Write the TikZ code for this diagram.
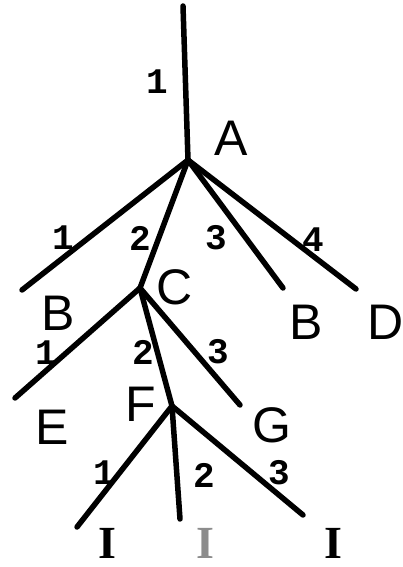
\documentclass[tikz,border=0pt]{standalone}
\usepackage{fontspec}
\newfontfamily\lettrfont{Liberation Sans}
\newfontfamily\numfont{Liberation Mono}
\newfontfamily\ifont{Liberation Serif}
\begin{document}
\begin{tikzpicture}[x=1pt,y=-1pt,
  branch/.style={line width=5.5pt,line cap=round,black},
  letter/.style={font=\lettrfont\fontsize{50}{50}\selectfont,inner sep=0pt},
  num/.style={font=\numfont\bfseries\fontsize{36}{36}\selectfont,inner sep=0pt},
  leaf/.style={font=\ifont\bfseries\fontsize{46}{46}\selectfont,inner sep=0pt,anchor=base}]
\useasboundingbox[fill=white] (0,0) rectangle (403,567);
% junctions and free ends
\coordinate (top) at (183,6);
\coordinate (ja) at (188,160);
\coordinate (jc) at (140,288);
\coordinate (jf) at (172,406);
\coordinate (e1) at (22,290);
\coordinate (e3) at (283,288);
\coordinate (e4) at (356,289);
\coordinate (ec1) at (15,398);
\coordinate (ec3) at (240,405);
\coordinate (ef1) at (77,527);
\coordinate (ef2) at (180,519);
\coordinate (ef3) at (303,515);
% branches
\draw[branch] (top) -- (ja);
\draw[branch] (ja) -- (e1);
\draw[branch] (ja) -- (jc);
\draw[branch] (ja) -- (e3);
\draw[branch] (ja) -- (e4);
\draw[branch] (jc) -- (ec1);
\draw[branch] (jc) -- (jf);
\draw[branch] (jc) -- (ec3);
\draw[branch] (jf) -- (ef1);
\draw[branch] (jf) -- (ef2);
\draw[branch] (jf) -- (ef3);
% letters
\node[letter] (lA) at (231,138) {A};
\node[letter] (lB1) at (58,313) {B};
\node[letter] (lC) at (175,287) {C};
\node[letter] (lB2) at (306,322) {B};
\node[letter] (lD) at (386,322) {D};
\node[letter] (lE) at (52,427) {E};
\node[letter] (lF) at (141,404) {F};
\node[letter] (lG) at (272,425) {G};
% numbers
\node[num] (n0) at (157,82) {1};
\node[num] (n1) at (63,238) {1};
\node[num] (n2) at (140,238) {2};
\node[num] (n3) at (216,238) {3};
\node[num] (n4) at (313,240) {4};
\node[num] (m1) at (46,353) {1};
\node[num] (m2) at (143,352) {2};
\node[num] (m3) at (218,352) {3};
\node[num] (k1) at (104,473) {1};
\node[num] (k2) at (204,475) {2};
\node[num] (k3) at (279,473) {3};
% leaves
\node[leaf] (i1) at (107,558) {I};
\node[leaf,black!45] (i2) at (205,558) {I};
\node[leaf] (i3) at (333,558) {I};
\end{tikzpicture}
\end{document}
